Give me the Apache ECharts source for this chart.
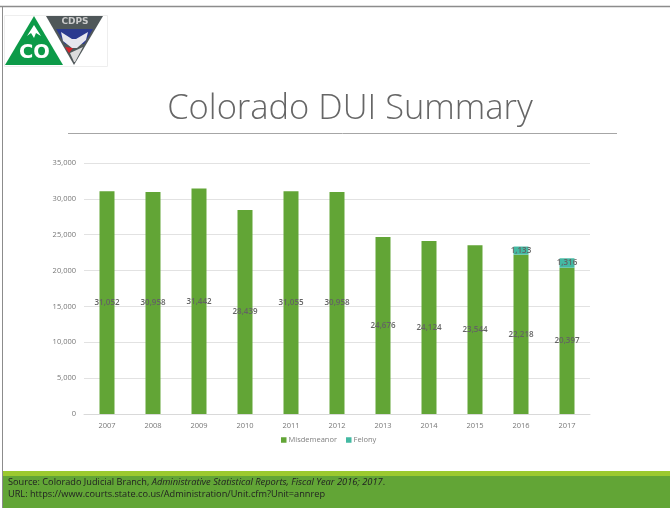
<!DOCTYPE html>
<html><head><meta charset="utf-8">
<style>html,body{margin:0;padding:0;background:#fff}#c{width:670px;height:508px}</style>
<script src="https://cdn.jsdelivr.net/npm/echarts@6/dist/echarts.min.js"></script>
</head><body><div id="c"></div>
<script>
const years=['2007','2008','2009','2010','2011','2012','2013','2014','2015','2016','2017'];
const misdemeanor=[31052,30958,31442,28439,31055,30958,24676,24124,23544,22218,20397];
const felony=[null,null,null,null,null,null,null,null,null,1133,1316];
const yTicks={min:0,max:35000,interval:5000};
const chart=echarts.init(document.getElementById('c'),null,{renderer:'canvas'});
const F='"Open Sans",sans-serif';
const lbl={show:true,position:'inside',color:'#636363',fontSize:8,fontWeight:600,fontFamily:F,
  formatter:p=>p.value==null?'':p.value.toLocaleString('en-US')};
const logoFont='"DejaVu Sans",sans-serif';
chart.setOption({
  animation:false,
  backgroundColor:'#fff',
  grid:{left:84,right:80,top:163,bottom:94},
  legend:{top:436,left:281,padding:0,itemWidth:5.5,itemHeight:5.5,itemGap:9,icon:'rect',
    textStyle:{color:'#808080',fontSize:7.5,fontFamily:F,padding:[0,0,0,-3]},
    data:['Misdemeanor','Felony']},
  xAxis:{type:'category',data:years,axisTick:{show:false},
    axisLine:{lineStyle:{color:'#d9d9d9',width:1}},
    axisLabel:{color:'#777',fontSize:7.5,fontFamily:F,margin:8}},
  yAxis:{type:'value',min:yTicks.min,max:yTicks.max,interval:yTicks.interval,
    axisLine:{show:false},axisTick:{show:false},
    axisLabel:{color:'#777',fontSize:7.5,fontFamily:F,margin:8,
      formatter:v=>v.toLocaleString('en-US')},
    splitLine:{lineStyle:{color:'#e2e2e2',width:1}}},
  series:[
    {name:'Misdemeanor',type:'bar',stack:'a',data:misdemeanor,barWidth:15,
     itemStyle:{color:'#62a536'},label:lbl},
    {name:'Felony',type:'bar',stack:'a',data:felony,barWidth:15,
     itemStyle:{color:'#43b9a2'},label:lbl}
  ],
  graphic:[
    {type:'line',shape:{x1:0,y1:6.5,x2:670,y2:6.5},style:{stroke:'#8c8c8c',lineWidth:1.5}},
    {type:'line',shape:{x1:2.5,y1:6,x2:2.5,y2:508},style:{stroke:'#8c8c8c',lineWidth:1}},
    {type:'rect',shape:{x:3,y:471,width:667,height:5},style:{fill:'#9bc92f'}},
    {type:'rect',shape:{x:3,y:476,width:667,height:32},style:{fill:'#62a536'}},
    {type:'text',left:8,top:477,style:{fontFamily:F,fontSize:9.2,fill:'#222',lineHeight:11.5,
      text:'{n|Source: Colorado Judicial Branch, }{i|Administrative Statistical Reports, Fiscal Year 2016; 2017}{n|.}\n{n|URL: https://www.courts.state.co.us/Administration/Unit.cfm?Unit=annrep}',
      rich:{n:{fontFamily:F,fontSize:9.2,fill:'#222',lineHeight:11.5},i:{fontFamily:F,fontSize:9.3,fill:'#222',fontStyle:'italic',lineHeight:11.5}}}},
    {type:'text',x:350,y:109.5,style:{text:'Colorado DUI Summary',fontFamily:F,fontWeight:300,fontSize:34.5,fill:'#666',align:'center',verticalAlign:'middle'}},
    {type:'line',shape:{x1:68,y1:133.5,x2:617,y2:133.5},style:{stroke:'#a6a6a6',lineWidth:1}},
    // logo
    {type:'rect',shape:{x:4.5,y:15.5,width:103,height:51},style:{fill:'#fff',stroke:'#eeeeee',lineWidth:1}},
    {type:'polygon',shape:{points:[[34,16],[63,65],[5,65]]},style:{fill:'#0c9a48'}},
    {type:'polygon',shape:{points:[[34,25],[41,36],[36,33],[34,38],[31,33],[27,36]]},style:{fill:'#fff'}},
    {type:'text',x:34.5,y:53,style:{text:'CO',fontFamily:logoFont,fontWeight:'bold',fontSize:19.5,fill:'#fff',align:'center',verticalAlign:'middle'}},
    {type:'polygon',shape:{points:[[46,16],[103,16],[74,65]]},style:{fill:'#4f5759'}},
    {type:'polygon',shape:{points:[[56,29],[93,29],[84,44],[65,44]]},style:{fill:'#2b3a8f'}},
    {type:'polygon',shape:{points:[[65,47],[73,48],[69,53]]},style:{fill:'#d8232a'}},
    {type:'polygon',shape:{points:[[70,53],[83,47],[75,62],[74,62]]},style:{fill:'#dcdcdc'}},
    {type:'polygon',shape:{points:[[61,32],[72,39],[76,39],[88,32],[86,40],[77,48],[72,48],[63,41]]},style:{fill:'#e6e6ee'}},
    {type:'text',x:75,y:22,style:{text:'CDPS',fontFamily:logoFont,fontWeight:'bold',fontSize:9,fill:'#ccc',align:'center',verticalAlign:'middle',lineHeight:9}}
  ]
});
</script></body></html>
